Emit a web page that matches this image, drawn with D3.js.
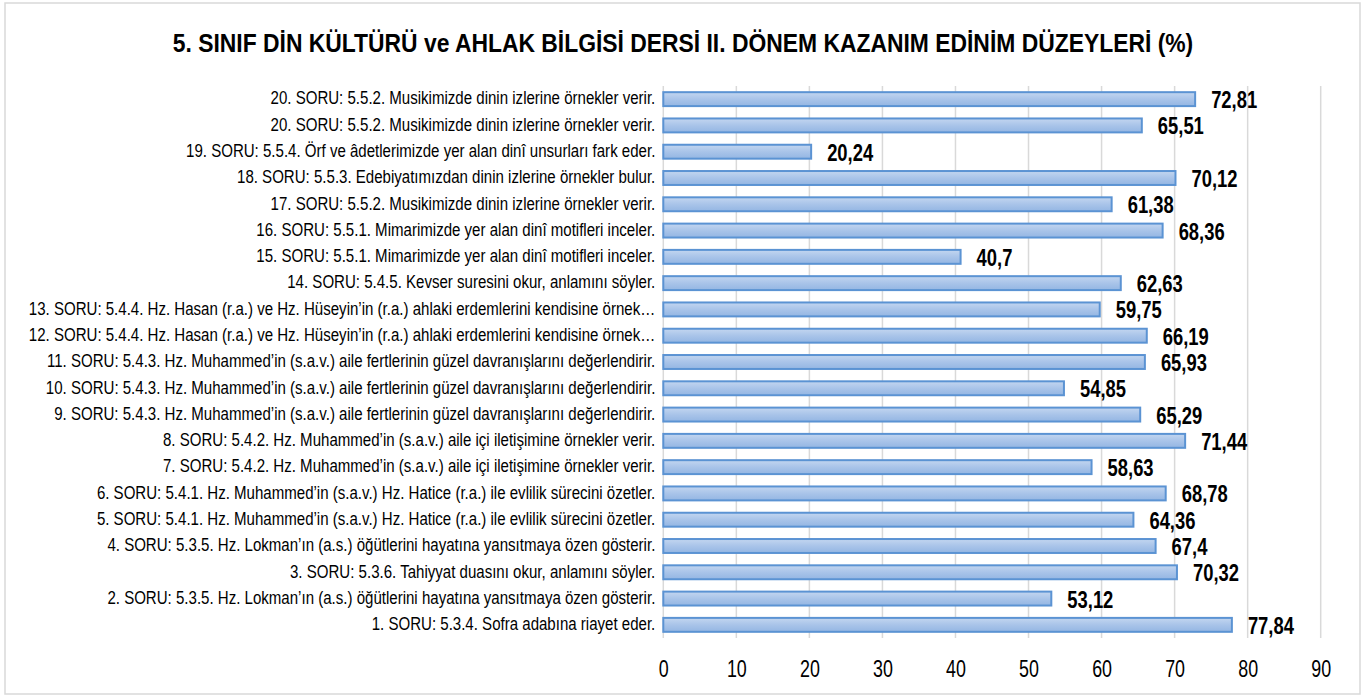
<!DOCTYPE html>
<html>
<head>
<meta charset="utf-8">
<script src="https://cdn.jsdelivr.net/npm/d3@7"></script>
<style>
  html, body { margin: 0; padding: 0; background: #fff; }
  svg { display: block; }
  text { font-family: "Liberation Sans", Arial, sans-serif; }
</style>
</head>
<body>
<svg id="chart" width="1363" height="695"></svg>
<script>
const title = "5. SINIF DİN KÜLTÜRÜ ve AHLAK BİLGİSİ DERSİ II. DÖNEM KAZANIM EDİNİM DÜZEYLERİ (%)";

// bottom to top, as in the source
const categories = [
  "1. SORU: 5.3.4. Sofra adabına riayet eder.",
  "2. SORU: 5.3.5. Hz. Lokman’ın (a.s.) öğütlerini hayatına yansıtmaya özen gösterir.",
  "3. SORU: 5.3.6. Tahiyyat duasını okur, anlamını söyler.",
  "4. SORU: 5.3.5. Hz. Lokman’ın (a.s.) öğütlerini hayatına yansıtmaya özen gösterir.",
  "5. SORU: 5.4.1. Hz. Muhammed’in (s.a.v.) Hz. Hatice (r.a.) ile evlilik sürecini özetler.",
  "6. SORU: 5.4.1. Hz. Muhammed’in (s.a.v.) Hz. Hatice (r.a.) ile evlilik sürecini özetler.",
  "7. SORU: 5.4.2. Hz. Muhammed’in (s.a.v.) aile içi iletişimine örnekler verir.",
  "8. SORU: 5.4.2. Hz. Muhammed’in (s.a.v.) aile içi iletişimine örnekler verir.",
  "9. SORU: 5.4.3. Hz. Muhammed’in (s.a.v.) aile fertlerinin güzel davranışlarını değerlendirir.",
  "10. SORU: 5.4.3. Hz. Muhammed’in (s.a.v.) aile fertlerinin güzel davranışlarını değerlendirir.",
  "11. SORU: 5.4.3. Hz. Muhammed’in (s.a.v.) aile fertlerinin güzel davranışlarını değerlendirir.",
  "12. SORU: 5.4.4. Hz. Hasan (r.a.) ve Hz. Hüseyin’in (r.a.) ahlaki erdemlerini kendisine örnek…",
  "13. SORU: 5.4.4. Hz. Hasan (r.a.) ve Hz. Hüseyin’in (r.a.) ahlaki erdemlerini kendisine örnek…",
  "14. SORU: 5.4.5. Kevser suresini okur, anlamını söyler.",
  "15. SORU: 5.5.1. Mimarimizde yer alan dinî motifleri inceler.",
  "16. SORU: 5.5.1. Mimarimizde yer alan dinî motifleri inceler.",
  "17. SORU: 5.5.2. Musikimizde dinin izlerine örnekler verir.",
  "18. SORU: 5.5.3. Edebiyatımızdan dinin izlerine örnekler bulur.",
  "19. SORU: 5.5.4. Örf ve âdetlerimizde yer alan dinî unsurları fark eder.",
  "20. SORU: 5.5.2. Musikimizde dinin izlerine örnekler verir.",
  "20. SORU: 5.5.2. Musikimizde dinin izlerine örnekler verir."
];
const values = [77.84, 53.12, 70.32, 67.4, 64.36, 68.78, 58.63, 71.44, 65.29, 54.85,
                65.93, 66.19, 59.75, 62.63, 40.7, 68.36, 61.38, 70.12, 20.24, 65.51, 72.81];
const xTicks = [0, 10, 20, 30, 40, 50, 60, 70, 80, 90];

const svg = d3.select("#chart");
const W = 1363, H = 695;

// narrow-font look: squeeze glyphs horizontally
function condense(sel, k) {
  sel.each(function () {
    const w = this.getComputedTextLength();
    d3.select(this).attr("textLength", w * k).attr("lengthAdjust", "spacingAndGlyphs");
  });
}

const defs = svg.append("defs");
const grad = defs.append("linearGradient").attr("id", "barGrad")
  .attr("x1", 0).attr("y1", 0).attr("x2", 0).attr("y2", 1);
grad.append("stop").attr("offset", "0%").attr("stop-color", "#c3d6f0");
grad.append("stop").attr("offset", "50%").attr("stop-color", "#a9c4e9");
grad.append("stop").attr("offset", "100%").attr("stop-color", "#94b6e3");

svg.append("rect").attr("x", 5).attr("y", 3).attr("width", W - 8).attr("height", H - 4)
  .attr("fill", "#fff").attr("stroke", "#d9d9d9").attr("stroke-width", 1.5);

const titleText = svg.append("text").attr("x", 683).attr("y", 52).attr("text-anchor", "middle")
  .attr("font-size", 25.5).attr("font-weight", "bold").attr("fill", "#000")
  .text(title);
condense(titleText, 0.897);

const pLeft = 663.3, pRight = 1320.7, pTop = 86, pBottom = 638;
const x = d3.scaleLinear().domain([0, 90]).range([pLeft, pRight]);
const idx = d3.range(categories.length);
const y = d3.scaleBand().domain(idx.slice().reverse()).range([pTop, pBottom]).paddingInner(0.47).paddingOuter(0.235);

svg.append("g").selectAll("line").data(xTicks).join("line")
  .attr("x1", d => x(d)).attr("x2", d => x(d))
  .attr("y1", pTop).attr("y2", pBottom)
  .attr("stroke", "#d9d9d9").attr("stroke-width", 1.5);

const xAxis = d3.axisBottom(x).tickValues(xTicks).tickSize(0).tickPadding(0).tickFormat(d3.format("d"));
const gx = svg.append("g").attr("transform", `translate(0,${pBottom})`).call(xAxis);
gx.select(".domain").remove();
gx.selectAll("text").attr("font-size", 23.5).attr("fill", "#000").attr("dy", null).attr("y", 39)
  .style("font-family", "'Liberation Sans', Arial, sans-serif");
condense(gx.selectAll("text"), 0.76);

const yAxis = d3.axisLeft(y).tickSize(0).tickPadding(8).tickFormat(i => categories[i]);
const gy = svg.append("g").attr("transform", `translate(${pLeft},0)`).call(yAxis);
gy.select(".domain").remove();
gy.selectAll("text").attr("font-size", 17.5).attr("fill", "#000").attr("dy", "0.3em")
  .style("font-family", "'Liberation Sans', Arial, sans-serif");
condense(gy.selectAll("text"), 0.86);

svg.append("g").selectAll("rect").data(idx).join("rect")
  .attr("x", x(0)).attr("y", i => y(i))
  .attr("width", i => x(values[i]) - x(0)).attr("height", y.bandwidth())
  .attr("fill", "url(#barGrad)").attr("stroke", "#5b93d3").attr("stroke-width", 2);

const valLabels = svg.append("g").selectAll("text").data(idx).join("text")
  .attr("x", i => x(values[i]) + 16).attr("y", i => y(i) + y.bandwidth() / 2 + 1)
  .attr("dominant-baseline", "central")
  .attr("font-size", 23).attr("font-weight", "bold").attr("fill", "#000")
  .text(i => String(values[i]).replace(".", ","));
condense(valLabels, 0.8);
</script>
</body>
</html>
